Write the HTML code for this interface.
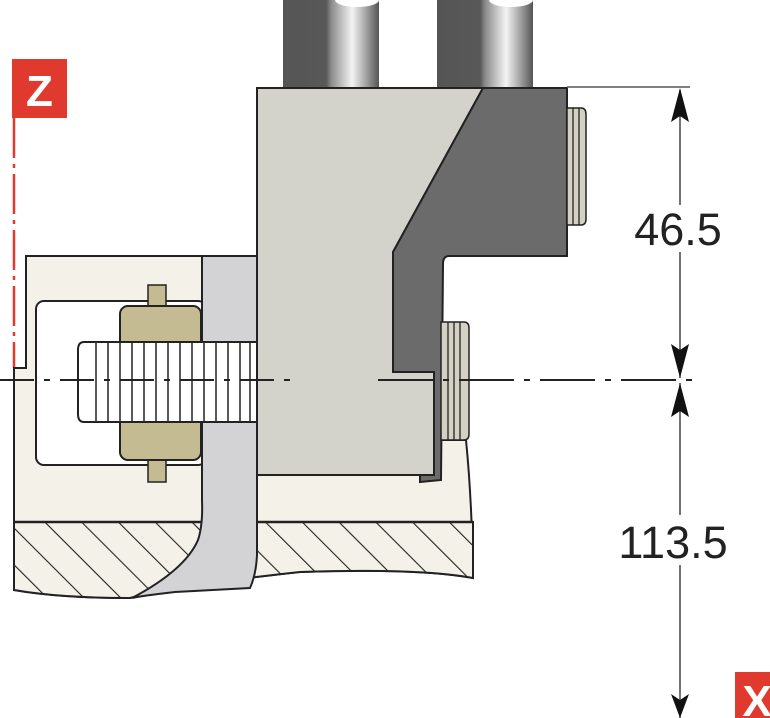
<!DOCTYPE html>
<html><head><style>html,body{margin:0;padding:0;background:#fff;}svg{display:block}</style></head>
<body>
<svg width="770" height="718" viewBox="0 0 770 718" xmlns="http://www.w3.org/2000/svg" font-family="Liberation Sans, sans-serif">
<defs>
<linearGradient id="cyl" x1="0" x2="1" y1="0" y2="0">
<stop offset="0" stop-color="#555"/><stop offset="0.45" stop-color="#585858"/><stop offset="0.5" stop-color="#8a8a8a"/><stop offset="0.72" stop-color="#f4f4f4"/><stop offset="0.88" stop-color="#9a9a9a"/><stop offset="1" stop-color="#555"/>
</linearGradient>
<pattern id="hatch" width="26" height="26" patternUnits="userSpaceOnUse" patternTransform="rotate(-45)">
<rect width="26" height="26" fill="#f4f1e8"/><line x1="0" y1="0" x2="0" y2="26" stroke="#222" stroke-width="2.2"/>
</pattern>
</defs>
<!-- cylinders -->
<rect x="283" y="0" width="96" height="90" fill="url(#cyl)"/>
<ellipse cx="357" cy="0" rx="22" ry="7" fill="#fff"/>
<rect x="437" y="0" width="96" height="90" fill="url(#cyl)"/>
<ellipse cx="511" cy="0" rx="22" ry="7" fill="#fff"/>
<!-- Z marker -->
<rect x="12" y="59" width="55" height="59" fill="#e03a2e"/>
<text x="39.5" y="106" font-size="44" font-weight="bold" fill="#fff" text-anchor="middle">Z</text>
<line x1="14" y1="118" x2="14" y2="368" stroke="#e03a2e" stroke-width="2.5" stroke-dasharray="40,6,4,6"/>
<!-- cream body -->
<path d="M26,256 L258,256 L258,475 L441,475 L441,440 L466,440 Q472,500 473,578 Q420,568 300,572 Q180,585 130,598 Q60,598 14,590 L14,368 L26,368 Z" fill="#f4f1e8" stroke="#222" stroke-width="2"/>
<!-- hatched bottom -->
<path d="M14,522 L473,522 L473,578 Q420,568 300,572 Q180,585 130,598 Q60,598 14,590 Z" fill="url(#hatch)" stroke="#222" stroke-width="2"/>
<line x1="14" y1="522" x2="473" y2="522" stroke="#222" stroke-width="2.5"/>
<!-- inner opening -->
<rect x="36" y="301" width="170" height="164" rx="8" fill="#fff" stroke="#222" stroke-width="2"/>
<!-- nut tabs -->
<rect x="148" y="285" width="18" height="24" fill="#c5bb92" stroke="#222" stroke-width="1.5"/>
<rect x="148" y="458" width="18" height="24" fill="#c5bb92" stroke="#222" stroke-width="1.5"/>
<!-- nut -->
<rect x="120" y="306" width="81" height="154" rx="8" fill="#c5bb92" stroke="#222" stroke-width="2"/>
<!-- curved light gray plate -->
<path d="M202,256 L257,256 L257,555 Q256,575 250,588 L175,592 Q140,596 132,598 Q185,570 198,540 Q203,525 202,500 Z" fill="#d3d3d5" stroke="#222" stroke-width="2"/>
<!-- bolt -->
<path d="M84,342 L257,342 L257,422 L84,422 Q78,422 78,414 L78,350 Q78,342 84,342 Z" fill="#fff" stroke="#222" stroke-width="2"/>
<g stroke="#222" stroke-width="1.5">
<line x1="96" y1="342" x2="96" y2="422"/><line x1="108" y1="342" x2="108" y2="422"/><line x1="120" y1="342" x2="120" y2="422"/><line x1="132" y1="342" x2="132" y2="422"/><line x1="144" y1="342" x2="144" y2="422"/><line x1="156" y1="342" x2="156" y2="422"/><line x1="168" y1="342" x2="168" y2="422"/><line x1="180" y1="342" x2="180" y2="422"/><line x1="192" y1="342" x2="192" y2="422"/><line x1="204" y1="342" x2="204" y2="422"/><line x1="216" y1="342" x2="216" y2="422"/><line x1="228" y1="342" x2="228" y2="422"/><line x1="240" y1="342" x2="240" y2="422"/><line x1="250" y1="342" x2="250" y2="422"/>
</g>
<!-- light gray block -->
<path d="M257,88 L483,88 L393,252 L393,372 L434,372 L434,475 L257,475 Z" fill="#d4d3cb" stroke="#222" stroke-width="2"/>
<!-- dark part -->
<path d="M483,88 L567,88 L567,256 L449,256 Q443,256 443,264 L441,480 L420,482 L420,475 L434,475 L434,372 L393,372 L393,252 Z" fill="#6b6b6b" stroke="#222" stroke-width="2"/>
<!-- top right small nut -->
<path d="M567,108 L581,108 Q586,108 586,114 L586,219 Q586,225 581,225 L567,225 Z" fill="#d4d0c4" stroke="#222" stroke-width="1.5"/>
<line x1="573" y1="108" x2="573" y2="225" stroke="#222" stroke-width="1.3"/><line x1="579" y1="108" x2="579" y2="225" stroke="#222" stroke-width="1.3"/>
<!-- right nut -->
<path d="M441,322 L464,322 Q469,322 469,328 L469,434 Q469,440 464,440 L441,440 Z" fill="#d4d0c4" stroke="#222" stroke-width="1.5"/>
<line x1="448" y1="322" x2="448" y2="440" stroke="#222" stroke-width="1.3"/><line x1="454" y1="322" x2="454" y2="440" stroke="#222" stroke-width="1.3"/><line x1="460" y1="322" x2="460" y2="440" stroke="#222" stroke-width="1.3"/>
<!-- center line -->
<line x1="0" y1="380" x2="297" y2="380" stroke="#222" stroke-width="2" stroke-dasharray="34,10,6,10"/>
<line x1="378" y1="380" x2="692" y2="380" stroke="#222" stroke-width="2" stroke-dasharray="55,10,6,10"/>
<!-- dimensions -->
<line x1="567" y1="87" x2="690" y2="87" stroke="#555" stroke-width="1.5"/>
<line x1="680" y1="90" x2="680" y2="205" stroke="#444" stroke-width="1.5"/>
<line x1="680" y1="252" x2="680" y2="378" stroke="#444" stroke-width="1.5"/>
<line x1="680" y1="383" x2="680" y2="515" stroke="#444" stroke-width="1.5"/>
<line x1="680" y1="565" x2="680" y2="718" stroke="#444" stroke-width="1.5"/>
<path d="M680,88 L671,122 L680,116 L689,122 Z" fill="#111"/>
<path d="M680,378 L671,344 L680,350 L689,344 Z" fill="#111"/>
<path d="M680,383 L671,417 L680,411 L689,417 Z" fill="#111"/>
<path d="M680,718 L671,694 L680,700 L689,694 Z" fill="#111"/>
<text x="678" y="245" font-size="45" fill="#222" text-anchor="middle">46.5</text>
<text x="673" y="558" font-size="45" fill="#222" text-anchor="middle">113.5</text>
<!-- X marker -->
<rect x="735" y="672" width="40" height="50" fill="#e03a2e"/>
<text x="757" y="716" font-size="44" font-weight="bold" fill="#fff" text-anchor="middle">X</text>
</svg>
</body></html>
